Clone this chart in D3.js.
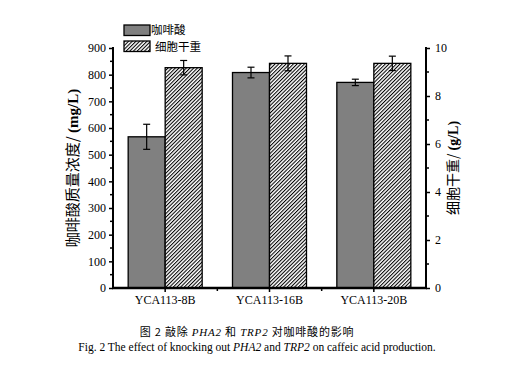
<!DOCTYPE html>
<html><head><meta charset="utf-8">
<script src="https://cdn.jsdelivr.net/npm/d3@7"></script>
<style>body{margin:0;background:#fff}svg{display:block}</style>
</head><body>
<script>
const categories = ["YCA113-8B","YCA113-16B","YCA113-20B"];
const caffeic = [567, 808, 771];
const caffeicErr = [47, 20, 12];
const dcw = [9.18, 9.36, 9.36];
const dcwErr = [0.30, 0.31, 0.30];
const leftTicks = [0,100,200,300,400,500,600,700,800,900];
const rightTicks = [0,2,4,6,8,10];
const legendLabels = ["咖啡酸","细胞干重"];

const W=519,H=369;
const svg=d3.select("body").append("svg").attr("width",W).attr("height",H);
const defs=svg.append("defs");
const P=2.6;
const pat=defs.append("pattern").attr("id","hatch").attr("patternUnits","userSpaceOnUse")
  .attr("width",P).attr("height",P).attr("patternTransform","rotate(45)");
pat.append("rect").attr("width",P).attr("height",P).attr("fill","#fff");
pat.append("line").attr("x1",0.5).attr("y1",0).attr("x2",0.5).attr("y2",P).attr("stroke","#000").attr("stroke-width",1.1);

const x0=113,x1=426,yTop=48,yBot=288;
const xb=d3.scaleBand().domain(categories).range([x0,x1]).paddingInner(0).paddingOuter(0);
const yL=d3.scaleLinear().domain([0,900]).range([yBot,yTop]);
const yR=d3.scaleLinear().domain([0,10]).range([yBot,yTop]);
const bw=37;
const serif="'Liberation Serif','Times New Roman',serif";
const cjk="'Noto Sans CJK SC',sans-serif";

const g=svg.append("g");
categories.forEach((c,i)=>{
  const cx=xb(c)+xb.bandwidth()/2;
  g.append("rect").attr("x",cx-bw).attr("y",yL(caffeic[i])).attr("width",bw).attr("height",yBot-yL(caffeic[i]))
    .attr("fill","#808080").attr("stroke","#000").attr("stroke-width",1.3);
  g.append("rect").attr("x",cx).attr("y",yR(dcw[i])).attr("width",bw).attr("height",yBot-yR(dcw[i]))
    .attr("fill","url(#hatch)").attr("stroke","#000").attr("stroke-width",1.3);
  const eb=(x,yh,yl)=>{
    g.append("line").attr("x1",x).attr("x2",x).attr("y1",yh).attr("y2",yl).attr("stroke","#000").attr("stroke-width",1.2);
    [yh,yl].forEach(y=>g.append("line").attr("x1",x-3.5).attr("x2",x+3.5).attr("y1",y).attr("y2",y).attr("stroke","#000").attr("stroke-width",1.2));
  };
  eb(cx-bw/2,yL(caffeic[i]+caffeicErr[i]),yL(caffeic[i]-caffeicErr[i]));
  eb(cx+bw/2,yR(dcw[i]+dcwErr[i]),yR(dcw[i]-dcwErr[i]));
});

const la=svg.append("g").attr("transform",`translate(${x0},0)`)
  .call(d3.axisLeft(yL).tickValues(leftTicks).tickSize(4).tickPadding(3));
la.select(".domain").attr("stroke-width",2).attr("d",`M0,${yTop-1}V${yBot}`);
la.selectAll(".tick line").attr("stroke-width",1.5);
la.selectAll("text").style("font-family",serif).style("font-size","12px").attr("fill","#000");
svg.append("g").selectAll("line").data(d3.range(50,900,100)).join("line")
  .attr("x1",x0-3).attr("x2",x0).attr("y1",d=>yL(d)).attr("y2",d=>yL(d)).attr("stroke","#000").attr("stroke-width",1.5);

const ra=svg.append("g").attr("transform",`translate(${x1},0)`)
  .call(d3.axisRight(yR).tickValues(rightTicks).tickSize(4).tickPadding(5));
ra.select(".domain").attr("stroke-width",2).attr("d",`M0,${yTop-1}V${yBot}`);
ra.selectAll(".tick line").attr("stroke-width",1.5);
ra.selectAll("text").style("font-family",serif).style("font-size","12px").attr("fill","#000");
svg.append("g").selectAll("line").data(d3.range(1,10,2)).join("line")
  .attr("x1",x1).attr("x2",x1+3).attr("y1",d=>yR(d)).attr("y2",d=>yR(d)).attr("stroke","#000").attr("stroke-width",1.5);

const ba=svg.append("g").attr("transform",`translate(0,${yBot})`)
  .call(d3.axisBottom(xb).tickSize(4).tickPadding(3));
ba.select(".domain").attr("stroke-width",2.5).attr("d",`M${x0-1},0H${x1+1}`);
ba.selectAll(".tick line").attr("stroke-width",1.5);
ba.selectAll("text").style("font-family",serif).style("font-size","12px").attr("fill","#000");
svg.append("g").selectAll("line").data(categories.slice(1)).join("line")
  .attr("x1",d=>xb(d)).attr("x2",d=>xb(d)).attr("y1",yBot).attr("y2",yBot+3).attr("stroke","#000").attr("stroke-width",1.5);

const lt=svg.append("text").attr("transform","translate(78,168) rotate(-90)").attr("text-anchor","middle")
  .style("font-size","15px").attr("fill","#000");
lt.append("tspan").style("font-family",cjk).text("咖啡酸质量浓度/ ");
lt.append("tspan").style("font-family",serif).style("font-weight","bold").text("(mg/L)");
const rt=svg.append("text").attr("transform","translate(458,168) rotate(-90)").attr("text-anchor","middle")
  .style("font-size","14px").attr("fill","#000");
rt.append("tspan").style("font-family",cjk).text("细胞干重/ ");
rt.append("tspan").style("font-family",serif).style("font-weight","bold").text("(g/L)");

const lg=svg.append("g");
lg.append("rect").attr("x",124).attr("y",25).attr("width",26).attr("height",10.5).attr("fill","#808080").attr("stroke","#000").attr("stroke-width",1.3);
lg.append("rect").attr("x",124).attr("y",41).attr("width",26).attr("height",10.5).attr("fill","url(#hatch)").attr("stroke","#000").attr("stroke-width",1.3);
lg.append("text").attr("x",151).attr("y",34).style("font-family",cjk).style("font-size","11.5px").attr("fill","#000").text(legendLabels[0]);
lg.append("text").attr("x",155).attr("y",51).style("font-family",cjk).style("font-size","11.5px").attr("fill","#000").text(legendLabels[1]);

const c1=svg.append("text").attr("x",247).attr("y",336).attr("text-anchor","middle").style("font-size","11px").style("letter-spacing","0.8px").attr("fill","#000");
c1.append("tspan").style("font-family",cjk).text("图 2  敲除 ");
c1.append("tspan").style("font-family",serif).style("font-style","italic").text("PHA2");
c1.append("tspan").style("font-family",cjk).text(" 和 ");
c1.append("tspan").style("font-family",serif).style("font-style","italic").text("TRP2");
c1.append("tspan").style("font-family",cjk).text(" 对咖啡酸的影响");
const c2=svg.append("text").attr("x",257).attr("y",351).attr("text-anchor","middle").style("font-size","11.5px").style("font-family",serif).attr("fill","#000");
c2.append("tspan").text("Fig. 2 The effect of knocking out ");
c2.append("tspan").style("font-style","italic").text("PHA2");
c2.append("tspan").text(" and ");
c2.append("tspan").style("font-style","italic").text("TRP2");
c2.append("tspan").text(" on caffeic acid production.");
</script>
</body></html>
